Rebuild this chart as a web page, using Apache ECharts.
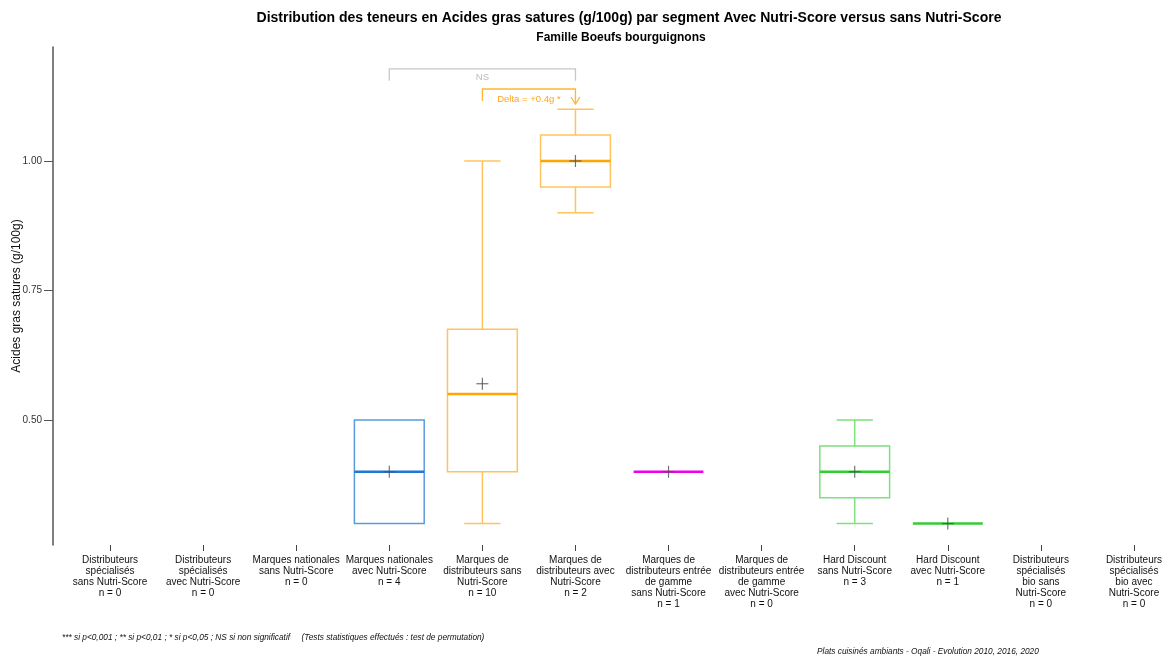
<!DOCTYPE html>
<html>
<head>
<meta charset="utf-8">
<script src="https://cdn.jsdelivr.net/npm/echarts@6/dist/echarts.min.js"></script>
<style>html,body{margin:0;padding:0;background:#fff}#c{width:1168px;height:657px}</style>
</head>
<body>
<div id="c"></div>
<script>
// ---- data ----
const categories = [
  'Distributeurs\nspécialisés\nsans Nutri-Score',
  'Distributeurs\nspécialisés\navec Nutri-Score',
  'Marques nationales\nsans Nutri-Score',
  'Marques nationales\navec Nutri-Score',
  'Marques de\ndistributeurs sans\nNutri-Score',
  'Marques de\ndistributeurs avec\nNutri-Score',
  'Marques de\ndistributeurs entrée\nde gamme\nsans Nutri-Score',
  'Marques de\ndistributeurs entrée\nde gamme\navec Nutri-Score',
  'Hard Discount\nsans Nutri-Score',
  'Hard Discount\navec Nutri-Score',
  'Distributeurs\nspécialisés\nbio sans\nNutri-Score',
  'Distributeurs\nspécialisés\nbio avec\nNutri-Score'
];
const counts      = [0, 0, 0, 4, 10, 2, 1, 0, 3, 1, 0, 0];
const whiskerLow  = [null, null, null, 0.30, 0.30, 0.90, 0.40, null, 0.30, 0.30, null, null];
const q1          = [null, null, null, 0.30, 0.40, 0.95, 0.40, null, 0.35, 0.30, null, null];
const medians     = [null, null, null, 0.40, 0.55, 1.00, 0.40, null, 0.40, 0.30, null, null];
const q3          = [null, null, null, 0.50, 0.675, 1.05, 0.40, null, 0.45, 0.30, null, null];
const whiskerHigh = [null, null, null, 0.50, 1.00, 1.10, 0.40, null, 0.50, 0.30, null, null];
const means       = [null, null, null, 0.40, 0.57, 1.00, 0.40, null, 0.40, 0.30, null, null];
const yTicks = [0.50, 0.75, 1.00];
const yAxisTitle = 'Acides gras satures (g/100g)';
// comparisons: [fromIndex, toIndex, label]
const comparisons = [
  [3, 5, 'NS'],
  [4, 5, 'Delta = +0.4g *']
];

// ---- styles ----
const palette = {
  3: {box: '#5a9be0', med: '#1f78d1'},
  4: {box: '#ffc35c', med: '#ffa500'},
  5: {box: '#ffc35c', med: '#ffa500'},
  6: {box: '#ff44ff', med: '#ee00ee'},
  8: {box: '#7ee07e', med: '#33cc33'},
  9: {box: '#7ee07e', med: '#33cc33'}
};

const labels = categories.map((c, i) => c + '\nn = ' + counts[i]);
const boxData = [];
for (let i = 0; i < categories.length; i++) {
  if (counts[i] > 0) boxData.push([i, whiskerLow[i], q1[i], medians[i], q3[i], whiskerHigh[i], means[i]]);
}

function renderBox(params, api) {
  const i = api.value(0);
  const col = palette[i];
  const x = api.coord([i, 0])[0];
  const band = api.size([1, 0])[0];
  const hw = band * 0.375, cw = band * 0.195;
  const y = k => api.coord([i, api.value(k)])[1];
  const yLo = y(1), yQ1 = y(2), yMed = y(3), yQ3 = y(4), yHi = y(5), yMean = y(6);
  const line = (x1, y1, x2, y2, stroke, w) => ({type: 'line', shape: {x1, y1, x2, y2}, style: {stroke, lineWidth: w}});
  const ch = [];
  if (yHi < yQ3 - 0.5) { ch.push(line(x, yHi, x, yQ3, col.box, 1.5)); ch.push(line(x - cw, yHi, x + cw, yHi, col.box, 1.5)); }
  if (yLo > yQ1 + 0.5) { ch.push(line(x, yQ1, x, yLo, col.box, 1.5)); ch.push(line(x - cw, yLo, x + cw, yLo, col.box, 1.5)); }
  if (yQ1 - yQ3 > 0.5) ch.push({type: 'rect', shape: {x: x - hw, y: yQ3, width: 2 * hw, height: yQ1 - yQ3}, style: {fill: 'none', stroke: col.box, lineWidth: 1.5}});
  ch.push(line(x - hw, yMed, x + hw, yMed, col.med, 2.5));
  ch.push(line(x - 6, yMean, x + 6, yMean, 'rgba(80,80,80,0.8)', 1.2));
  ch.push(line(x, yMean - 6, x, yMean + 6, 'rgba(80,80,80,0.8)', 1.2));
  return {type: 'group', children: ch};
}

function renderCmp(params, api) {
  const a = api.value(0), b = api.value(1), idx = params.dataIndex;
  const xa = api.coord([a, 0])[0], xb = api.coord([b, 0])[0];
  const levels = [1.178, 1.139];
  const yl = api.coord([a, levels[idx]])[1];
  const txt = comparisons[idx][2];
  const ch = [];
  if (idx === 0) {
    const s = '#c8c8c8';
    ch.push({type: 'polyline', shape: {points: [[xa, yl + 12], [xa, yl], [xb, yl], [xb, yl + 12]]}, style: {stroke: s, lineWidth: 1.3, fill: null}});
    ch.push({type: 'text', x: (xa + xb) / 2, y: yl + 9, style: {text: txt, fill: '#bbbbbb', font: '9.5px "Liberation Sans", Arial, sans-serif', align: 'center', verticalAlign: 'middle'}});
  } else {
    const s = '#ffb732';
    ch.push({type: 'polyline', shape: {points: [[xa, yl + 12], [xa, yl], [xb, yl], [xb, yl + 14]]}, style: {stroke: s, lineWidth: 1.3, fill: null}});
    ch.push({type: 'polyline', shape: {points: [[xb - 4.5, yl + 8], [xb, yl + 15], [xb + 4.5, yl + 8]]}, style: {stroke: s, lineWidth: 1.3, fill: null}});
    ch.push({type: 'text', x: (xa + xb) / 2, y: yl + 10, style: {text: txt, fill: '#ffa520', font: '9.5px "Liberation Sans", Arial, sans-serif', align: 'center', verticalAlign: 'middle'}});
  }
  return {type: 'group', children: ch};
}

const chart = echarts.init(document.getElementById('c'), null, {renderer: 'canvas'});
chart.setOption({
  backgroundColor: '#fff',
  animation: false,
  textStyle: {fontFamily: '"Liberation Sans", Arial, sans-serif'},
  title: [
    {text: 'Distribution des teneurs en Acides gras satures (g/100g) par segment Avec Nutri-Score versus sans Nutri-Score',
     left: 624, top: 6, textAlign: 'center',
     textStyle: {fontSize: 14, fontWeight: 'bold', color: '#000', fontFamily: '"Liberation Sans", Arial, sans-serif'}},
    {text: 'Famille Boeufs bourguignons', left: 616, top: 27, textAlign: 'center',
     textStyle: {fontSize: 12, fontWeight: 'bold', color: '#000', fontFamily: '"Liberation Sans", Arial, sans-serif'}}
  ],
  grid: {left: 63.5, right: -12.5, top: 47, bottom: 112, containLabel: false, outerBoundsMode: 'none'},
  xAxis: {
    type: 'category', data: labels, boundaryGap: true,
    axisLine: {show: false},
    axisTick: {show: true, alignWithLabel: true, length: 6, lineStyle: {color: '#444', width: 1}},
    axisLabel: {interval: 0, margin: 10, fontSize: 10, lineHeight: 11, color: '#111', align: 'center', verticalAlign: 'top', hideOverlap: false},
    splitLine: {show: false}
  },
  yAxis: {
    type: 'value', min: 0.2587, max: 1.2201, offset: 10.5,
    axisLine: {show: true, lineStyle: {color: '#555', width: 1.5}},
    axisTick: {show: true, length: 9, customValues: yTicks, lineStyle: {color: '#555', width: 1}},
    axisLabel: {customValues: yTicks, fontSize: 10, color: '#333', margin: 11, formatter: v => v.toFixed(2)},
    splitLine: {show: false}
  },
  series: [
    {type: 'custom', renderItem: renderBox, data: boxData, encode: {x: 0, y: [1, 2, 3, 4, 5, 6]}, clip: false, z: 3},
    {type: 'custom', renderItem: renderCmp, data: comparisons.map(c => [c[0], c[1]]), encode: {x: [0, 1]}, clip: false, z: 4}
  ],
  graphic: [
    {type: 'text', x: 17, y: 296, rotation: Math.PI / 2, style: {text: yAxisTitle, font: '12px "Liberation Sans", Arial, sans-serif', fill: '#111', align: 'center', verticalAlign: 'middle'}},
    {type: 'text', left: 62, top: 634, style: {text: '*** si p<0,001 ; ** si p<0,01 ; * si p<0,05 ; NS si non significatif     (Tests statistiques effectués : test de permutation)', font: 'italic 8.3px "Liberation Sans", Arial, sans-serif', fill: '#111'}},
    {type: 'text', left: 817, top: 648, style: {text: 'Plats cuisinés ambiants - Oqali - Evolution 2010, 2016, 2020', font: 'italic 8.3px "Liberation Sans", Arial, sans-serif', fill: '#111'}}
  ]
});
</script>
</body>
</html>
